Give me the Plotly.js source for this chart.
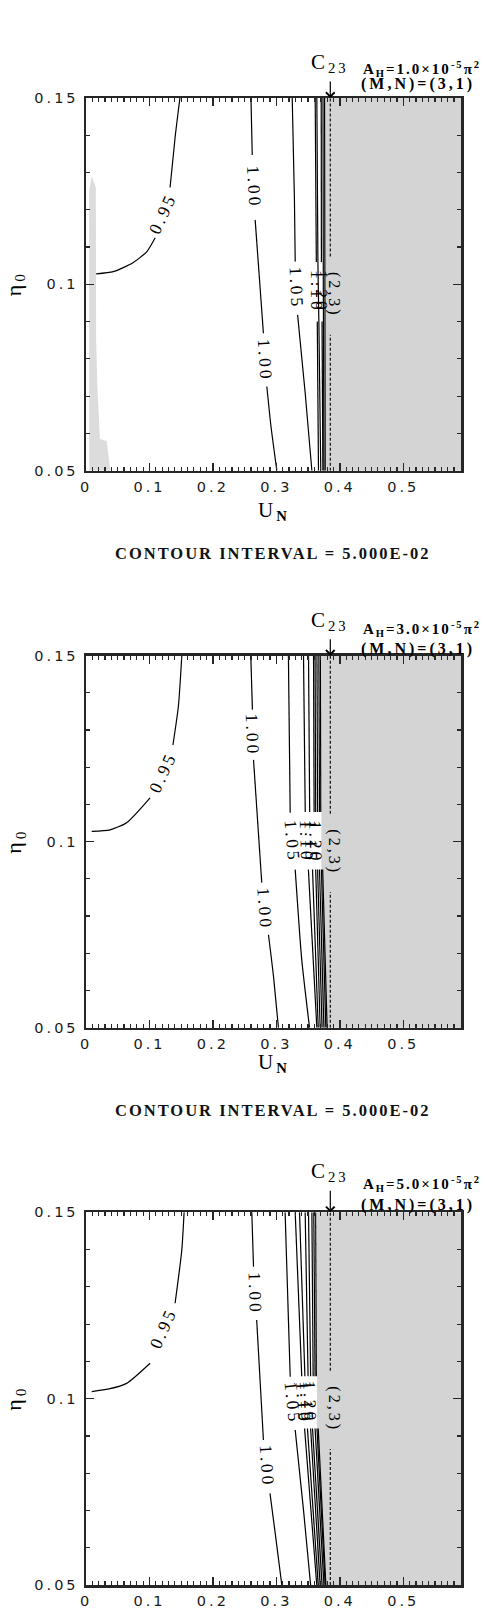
<!DOCTYPE html>
<html>
<head>
<meta charset="utf-8">
<script src="https://cdn.plot.ly/plotly-3.0.1.min.js"></script>
<style>
html, body { margin: 0; padding: 0; background: #fff; }
#chart { width: 485px; height: 1614px; }
text { letter-spacing: 3px; }
</style>
</head>
<body>
<div id="chart"></div>
<script>
// ---------- axes / tick labels ----------
const xRange = [0, 0.591];
const yRange = [0.05, 0.15];
const xTickVals = [0, 0.1, 0.2, 0.3, 0.4, 0.5];
const xTickText = ['0', '0.1', '0.2', '0.3', '0.4', '0.5'];
const yTickVals = [0.05, 0.1, 0.15];
const yTickText = ['0.05', '0.1', '0.15'];

// ---------- panel parameters ----------
const panelAH = ['1.0', '3.0', '5.0'];          // A_H coefficient (x10^-5 pi^2)
const modeMN = '(3,1)';
const c23 = 0.385;                               // C23 position on U_N
const grayStart = [0.377, 0.371, 0.364];         // start of shaded (no-solution) region
const contourInterval = '5.000E-02';

// ---------- panel 1 contours (A_H = 1.0e-5 pi^2) ----------
const p1_c095_x = [0.016, 0.043, 0.074, 0.096, 0.109, null, 0.1325, 0.1404, 0.148];
const p1_c095_y = [0.1028, 0.1034, 0.1058, 0.1088, 0.1125, null, 0.126, 0.1394, 0.15];
const p1_c100_x = [0.260, 0.262, null, 0.2666, 0.2796, null, 0.285, 0.2913, 0.3008];
const p1_c100_y = [0.15, 0.1347, null, 0.1173, 0.0869, null, 0.0726, 0.0622, 0.05];
const p1_c105_x = [0.325, 0.3285, 0.3297, null, 0.3335, 0.3454, 0.356];
const p1_c105_y = [0.15, 0.1226, 0.1061, null, 0.0918, 0.0709, 0.05];
const p1_c110_x = [0.3612, 0.363, null, 0.3645, 0.3664];
const p1_c110_y = [0.15, 0.106, null, 0.090, 0.05];
const p1_c115_x = [0.3638, 0.3655, 0.367, 0.370];
const p1_c115_y = [0.15, 0.106, 0.090, 0.05];
const p1_c120_x = [0.3707, 0.371, null, 0.372, 0.3733];
const p1_c120_y = [0.15, 0.106, null, 0.090, 0.05];
const p1_c125_x = [0.3735, 0.374, 0.375];
const p1_c125_y = [0.15, 0.10, 0.05];
const p1_c130_x = [0.376, 0.3765, 0.377];
const p1_c130_y = [0.15, 0.10, 0.05];
// small shaded patch near U_N = 0 (panel 1)
const p1_patch_x = [0.005, 0.009, 0.0155, 0.016, 0.018, 0.022, 0.0325, 0.036, 0.0385, 0.005];
const p1_patch_y = [0.125, 0.129, 0.126, 0.085, 0.072, 0.0585, 0.058, 0.054, 0.05, 0.05];

// ---------- panel 2 contours (A_H = 3.0e-5 pi^2) ----------
const p2_c095_x = [0.009, 0.038, 0.064, 0.101, null, 0.137, 0.1456, 0.151];
const p2_c095_y = [0.1028, 0.1032, 0.1051, 0.1118, null, 0.126, 0.1364, 0.15];
const p2_c100_x = [0.2597, 0.2623, null, 0.264, 0.277, null, 0.2876, 0.2955, 0.3033];
const p2_c100_y = [0.15, 0.1355, null, 0.122, 0.089, null, 0.075, 0.0638, 0.05];
const p2_c105_x = [0.319, 0.3218, null, 0.3297, 0.340, 0.3523];
const p2_c105_y = [0.15, 0.1078, null, 0.0925, 0.0683, 0.05];
const p2_bundle_y = [0.15, 0.108, null, 0.0925, 0.05];
const p2_c110_x = [0.3428, 0.3455, null, 0.3505, 0.3638];
const p2_c115_x = [0.3507, 0.3525, null, 0.357, 0.366];
const p2_c120_x = [0.3586, 0.3595, null, 0.362, 0.369];
const p2_c125_x = [0.361, 0.362, null, 0.365, 0.372];
const p2_c130_x = [0.364, 0.365, null, 0.368, 0.375];
const p2_c135_x = [0.367, 0.368, null, 0.371, 0.378];
const p2_c140_x = [0.3695, 0.370, null, 0.373, 0.380];

// ---------- panel 3 contours (A_H = 5.0e-5 pi^2) ----------
const p3_c095_x = [0.009, 0.036, 0.064, 0.101, null, 0.1404, 0.151, 0.1546];
const p3_c095_y = [0.1019, 0.1026, 0.1041, 0.1095, null, 0.1256, 0.1399, 0.15];
const p3_c100_x = [0.2613, 0.264, null, 0.269, 0.2796, null, 0.290, 0.300, 0.3086];
const p3_c100_y = [0.15, 0.1354, null, 0.1211, 0.0889, null, 0.0746, 0.0615, 0.05];
const p3_c105_x = [0.3138, 0.3218, null, 0.3297, 0.3428, 0.354];
const p3_c105_y = [0.15, 0.1059, null, 0.0916, 0.0701, 0.05];
const p3_bundle_y = [0.15, 0.106, null, 0.092, 0.05];
const p3_c110_x = [0.3297, 0.340, null, 0.3445, 0.3637];
const p3_c115_x = [0.3365, 0.345, null, 0.349, 0.366];
const p3_c120_x = [0.3454, 0.350, null, 0.354, 0.369];
const p3_c125_x = [0.3507, 0.354, null, 0.357, 0.372];
const p3_c130_x = [0.356, 0.358, null, 0.361, 0.375];
const p3_c135_x = [0.359, 0.361, null, 0.364, 0.377];
const p3_c140_x = [0.362, 0.363, null, 0.366, 0.378];

// ---------- contour label texts ----------
const p1_labelText = ['0.95', '1.00', '1.00', '1.05', '1.10', '1.20'];
const p2_labelText = ['0.95', '1.00', '1.00', '1.05', '1.10', '1.15', '1.20'];
const p3_labelText = ['0.95', '1.00', '1.00', '1.05', '1.10', '1.15', '1.20'];
const modeLabel = '(2,3)';

// ---------- label placement (layout) ----------
const p1_labelPos = [[0.120, 0.1190, -65], [0.2643, 0.1260, 87], [0.2823, 0.0797, 86], [0.3316, 0.0990, 87], [0.3637, 0.0980, 90], [0.3716, 0.0980, 90]];
const p2_labelPos = [[0.121, 0.1188, -65], [0.2632, 0.1288, 88], [0.2823, 0.0820, 86], [0.3258, 0.1000, 85], [0.3480, 0.1000, 88], [0.3555, 0.1000, 88], [0.3625, 0.1000, 89]];
const p3_labelPos = [[0.122, 0.1189, -66], [0.2665, 0.1283, 88], [0.2848, 0.0818, 86], [0.3257, 0.0988, 84], [0.3422, 0.0990, 86], [0.3475, 0.0990, 87], [0.3525, 0.0990, 88]];
const modeLabelX = 0.3905;
const modeLabelY = 0.0972;
const dashGap = [0.0865, 0.1075];

// ---------- build ----------
const lineStyle = {color: '#000', width: 1.2, shape: 'spline', smoothing: 0.6};
const p1Lines = [[p1_c095_x, p1_c095_y], [p1_c100_x, p1_c100_y], [p1_c105_x, p1_c105_y],
  [p1_c110_x, p1_c110_y], [p1_c115_x, p1_c115_y], [p1_c120_x, p1_c120_y], [p1_c125_x, p1_c125_y], [p1_c130_x, p1_c130_y]];
const p2Lines = [[p2_c095_x, p2_c095_y], [p2_c100_x, p2_c100_y], [p2_c105_x, p2_c105_y],
  [p2_c110_x, p2_bundle_y], [p2_c115_x, p2_bundle_y], [p2_c120_x, p2_bundle_y], [p2_c125_x, p2_bundle_y],
  [p2_c130_x, p2_bundle_y], [p2_c135_x, p2_bundle_y], [p2_c140_x, p2_bundle_y]];
const p3Lines = [[p3_c095_x, p3_c095_y], [p3_c100_x, p3_c100_y], [p3_c105_x, p3_c105_y],
  [p3_c110_x, p3_bundle_y], [p3_c115_x, p3_bundle_y], [p3_c120_x, p3_bundle_y], [p3_c125_x, p3_bundle_y],
  [p3_c130_x, p3_bundle_y], [p3_c135_x, p3_bundle_y], [p3_c140_x, p3_bundle_y]];
const allLines = [p1Lines, p2Lines, p3Lines];
const allLabelText = [p1_labelText, p2_labelText, p3_labelText];
const allLabelPos = [p1_labelPos, p2_labelPos, p3_labelPos];

const yDomains = [[0.74936, 1.0], [0.37478, 0.62495], [0.0, 0.25064]];
const cShift = [35, 35, 40];
const ahShift = [29, 27, 28];
const mnShift = [14, 7, 7];
const unShift = [40, 35];

const axColor = '#262626';
const tickFont = {family: 'DejaVu Sans, Arial, sans-serif', size: 14.5, color: '#1a1a1a'};
const serif = 'Liberation Serif, Times New Roman, serif';

const data = [];
const shapes = [];
const annotations = [];
const layout = {
  width: 485, height: 1614,
  margin: {l: 86, r: 24, t: 98, b: 29},
  paper_bgcolor: '#fff', plot_bgcolor: '#fff',
  showlegend: false,
  shapes: shapes, annotations: annotations
};

for (let i = 0; i < 3; i++) {
  const n = i === 0 ? '' : String(i + 1);
  const xa = 'x' + n, ya = 'y' + n;
  layout['xaxis' + n] = {
    domain: [0, 1], range: xRange, anchor: ya,
    showgrid: false, zeroline: false, showline: true, mirror: 'ticks',
    linecolor: axColor, linewidth: 2.5,
    ticks: 'inside', ticklen: 8, tickwidth: 1.5, tickcolor: axColor,
    tickmode: 'array', tickvals: xTickVals, ticktext: xTickText, tickfont: tickFont,
    ticklabelstandoff: 1,
    minor: {tick0: 0, dtick: 0.01, ticks: 'inside', ticklen: 4, tickwidth: 1.2, tickcolor: axColor},
    fixedrange: true
  };
  layout['yaxis' + n] = {
    domain: yDomains[i], range: yRange, anchor: xa,
    showgrid: false, zeroline: false, showline: true, mirror: 'ticks',
    linecolor: axColor, linewidth: 2.5,
    ticks: 'inside', ticklen: 8, tickwidth: 1.5, tickcolor: axColor,
    tickmode: 'array', tickvals: yTickVals, ticktext: yTickText, tickfont: tickFont,
    ticklabelstandoff: 2,
    minor: {tick0: 0.05, dtick: 0.01, ticks: 'inside', ticklen: 4, tickwidth: 1.2, tickcolor: axColor},
    fixedrange: true
  };

  // shaded region right of the bundle
  shapes.push({type: 'rect', layer: 'below', xref: xa, yref: ya + ' domain',
    x0: grayStart[i], x1: xRange[1], y0: 0, y1: 1, fillcolor: '#d4d4d4', line: {width: 0}});
  // dashed C23 line (with a gap for the (2,3) label)
  shapes.push({type: 'line', xref: xa, yref: ya, x0: c23, x1: c23, y0: yRange[0], y1: dashGap[0],
    line: {color: '#000', width: 1.1, dash: '3px,2px'}});
  shapes.push({type: 'line', xref: xa, yref: ya, x0: c23, x1: c23, y0: dashGap[1], y1: yRange[1],
    line: {color: '#000', width: 1.1, dash: '3px,2px'}});

  if (i === 0) {
    data.push({type: 'scatter', mode: 'lines', x: p1_patch_x, y: p1_patch_y, xaxis: xa, yaxis: ya,
      fill: 'toself', fillcolor: '#dcdcdc', line: {width: 0, color: '#dcdcdc'}, hoverinfo: 'skip'});
  }
  allLines[i].forEach(function (ln) {
    data.push({type: 'scatter', mode: 'lines', x: ln[0], y: ln[1], xaxis: xa, yaxis: ya,
      connectgaps: false, line: lineStyle, hoverinfo: 'skip'});
  });

  // contour labels
  allLabelText[i].forEach(function (t, k) {
    const p = allLabelPos[i][k];
    annotations.push({xref: xa, yref: ya, x: p[0], y: p[1], text: t, textangle: p[2],
      xanchor: 'center', yanchor: 'middle',
      showarrow: false, font: {family: serif, size: 17.5, color: '#000'}});
  });
  annotations.push({xref: xa, yref: ya, x: modeLabelX, y: modeLabelY, text: modeLabel, textangle: 90,
    xanchor: 'center', yanchor: 'middle',
    showarrow: false, font: {family: serif, size: 16, color: '#000'}});

  // C23 marker with arrow
  annotations.push({xref: xa, yref: ya + ' domain', x: c23, y: 1, text: 'C<sub>23</sub>',
    showarrow: true, arrowhead: 4, arrowsize: 1.4, arrowwidth: 1.2, arrowcolor: '#000',
    ax: 0, ay: -cShift[i], startstandoff: 4,
    font: {family: serif, size: 21, color: '#000'}});
  // A_H and (M,N)
  annotations.push({xref: 'paper', yref: ya + ' domain', x: 1.0587, y: 1, xanchor: 'right', yanchor: 'middle',
    yshift: ahShift[i], showarrow: false,
    text: '<b><span style="letter-spacing:2px">A<sub>H</sub>=' + panelAH[i] + '×10<sup>-5</sup>π<sup>2</sup></span></b>',
    font: {family: serif, size: 15, color: '#000'}});
  annotations.push({xref: 'paper', yref: ya + ' domain', x: 1.0427, y: 1, xanchor: 'right', yanchor: 'middle',
    yshift: mnShift[i], showarrow: false, text: '<b>(M,N)=' + modeMN + '</b>',
    font: {family: serif, size: 16, color: '#000'}});
  // y title
  annotations.push({xref: 'paper', yref: ya + ' domain', x: -0.1893, y: 0.5, textangle: -90,
    xanchor: 'center', yanchor: 'middle',
    showarrow: false, text: 'η<sub>0</sub>', font: {family: serif, size: 22, color: '#000'}});
  if (i < 2) {
    annotations.push({xref: 'paper', yref: ya + ' domain', x: 0.5, y: 0, yshift: -unShift[i],
      xanchor: 'center', yanchor: 'middle',
      showarrow: false, text: 'U<sub><b>N</b></sub>', font: {family: serif, size: 21, color: '#000'}});
    annotations.push({xref: 'paper', yref: ya + ' domain', x: 0.4973, y: 0, yshift: -82.5,
      xanchor: 'center', yanchor: 'middle',
      showarrow: false, text: '<b><span style="letter-spacing:2px">CONTOUR INTERVAL = ' + contourInterval + '</span></b>',
      font: {family: serif, size: 16.5, color: '#111'}});
  }
}

Plotly.newPlot('chart', data, layout, {displayModeBar: false, staticPlot: true});
</script>
</body>
</html>
